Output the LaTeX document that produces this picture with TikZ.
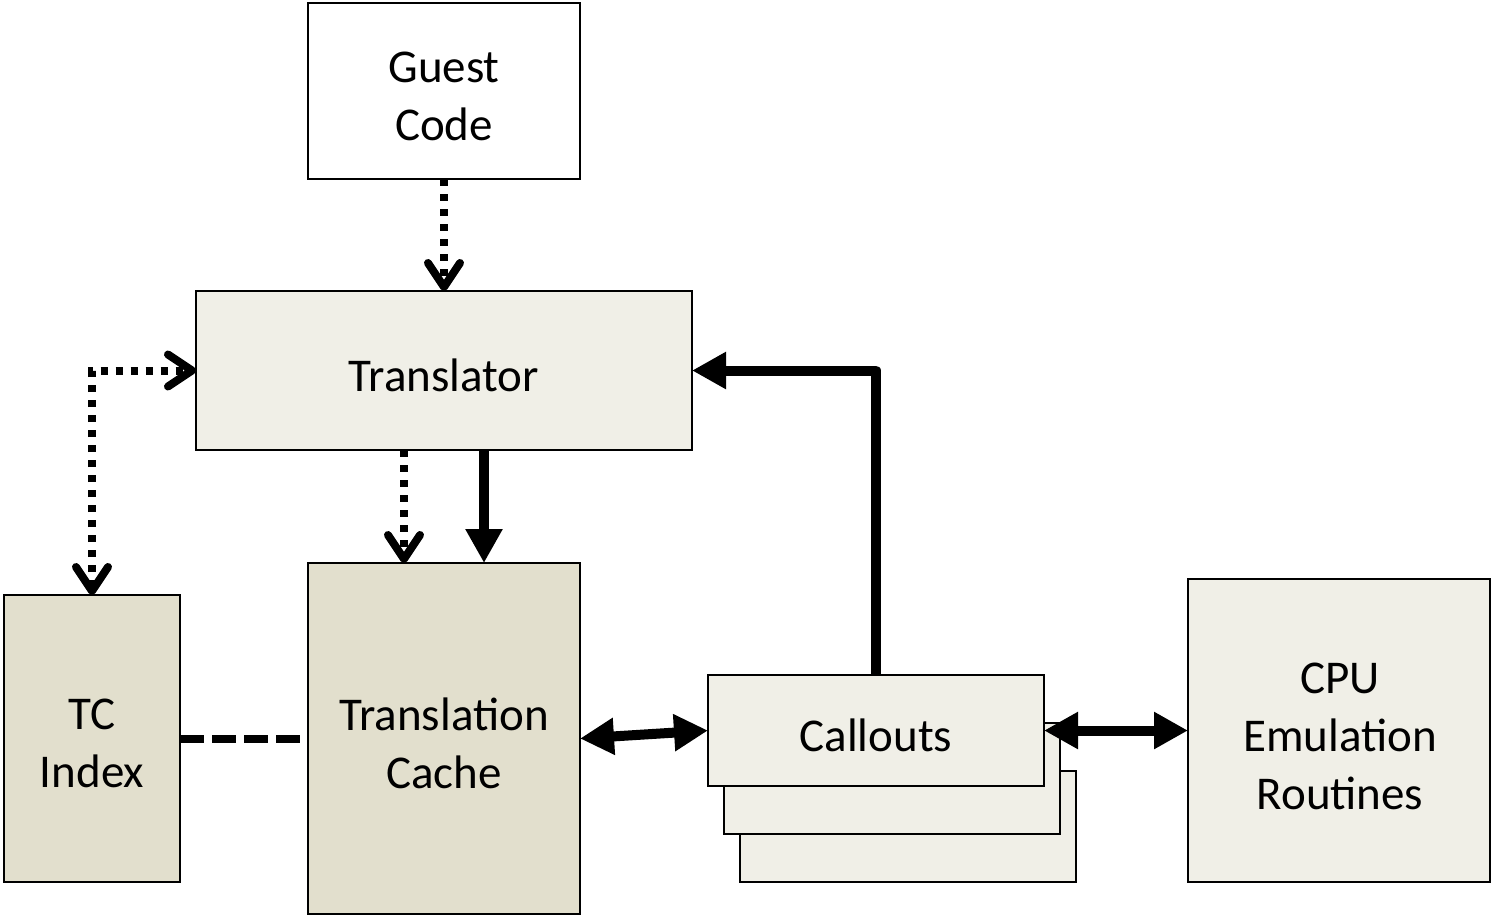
\documentclass[tikz,border=0pt]{standalone}
\usepackage{fontspec}
\setmainfont{Carlito}
\usetikzlibrary{arrows.meta,calc}
\definecolor{lightbox}{RGB}{240,239,231}
\definecolor{darkbox}{RGB}{226,223,205}
\tikzset{
  vtip/.tip={Straight Barb[length=12pt,width=16pt,line width=4pt,round]},
  ttip/.tip={Triangle[length=17pt,width=17.5pt]}
}
\begin{document}
\begin{tikzpicture}[x=0.5pt,y=-0.5pt,
  box/.style={draw=black,line width=1pt,inner sep=0pt,outer sep=0pt},
  txt/.style={align=center,inner sep=0pt,font=\fontsize{23.5}{29}\selectfont},
  dotarrow/.style={line width=4pt,dash pattern=on 3.5pt off 4pt},
  thick arrow/.style={line width=5pt,line join=round}
]
\useasboundingbox (0,0) rectangle (1491,917);
\node[box,fill=white,minimum width=136pt,minimum height=88pt] (guest) at (444,91) {};
\node[box,fill=lightbox,minimum width=248pt,minimum height=79.5pt] (translator) at (444,370.5) {};
\node[box,fill=darkbox,minimum width=88pt,minimum height=143.5pt] (tcindex) at (92,738.5) {};
\node[box,fill=darkbox,minimum width=136pt,minimum height=175.5pt] (tc) at (444,738.5) {};
\node[box,fill=lightbox,minimum width=168pt,minimum height=55.5pt] (callout3) at (908,826.5) {};
\node[box,fill=lightbox,minimum width=168pt,minimum height=55.5pt] (callout2) at (892,778.5) {};
\node[box,fill=lightbox,minimum width=168pt,minimum height=55.5pt] (callouts) at (876,730.5) {};
\node[box,fill=lightbox,minimum width=151pt,minimum height=151.5pt] (cpu) at (1339,730.5) {};

\node[txt] (guesttxt) at ($(guest.center)+(0,5)$) {Guest\\Code};
\node[txt] (translatortxt) at ($(translator.center)+(0,5)$) {Translator};
\node[txt] (tcindextxt) at ($(tcindex.center)+(0,5)$) {TC\\Index};
\node[txt] (tctxt) at ($(tc.center)+(0,5)$) {Translation\\Cache};
\node[txt] (calloutstxt) at ($(callouts.center)+(0,5)$) {Callouts};
\node[txt] (cputxt) at ($(cpu.center)+(1,6)$) {CPU\\Emulation\\Routines};

\draw[dotarrow,-{vtip}] (guest.south) -- (translator.north);
\draw[dotarrow,{vtip}-{vtip}] (tcindex.north) |- (translator.west);
\draw[dotarrow,-{vtip}] ($(translator.south)+(-40,0)$) -- ($(tc.north)+(-40,0)$);
\draw[thick arrow,-{ttip}] ($(translator.south)+(40,0)$) -- ($(tc.north)+(40,0)$);
\draw[thick arrow,{ttip}-{ttip}] (tc.east) -- (callouts.west);
\draw[thick arrow,{ttip}-{ttip}] (callouts.east) -- (cpu.west);
\draw[thick arrow,-{ttip}] (callouts.north) |- (translator.east);
\draw[line width=4pt,dash pattern=on 12pt off 4pt] (tcindex.east) -- ($(tc.west)+(-8,0)$);
\end{tikzpicture}
\end{document}
